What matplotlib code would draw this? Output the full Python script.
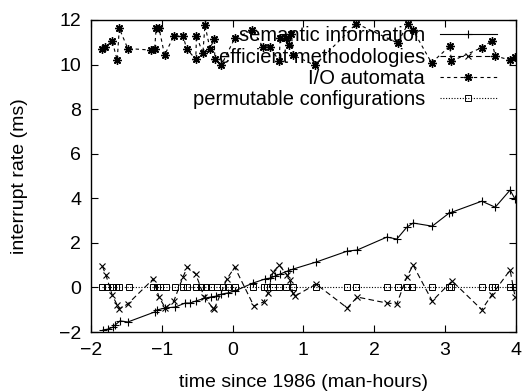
import matplotlib
matplotlib.use('Agg')
import matplotlib.pyplot as plt

plt.rcParams['font.family'] = ['Liberation Sans', 'DejaVu Sans']
plt.rcParams['font.size'] = 14

# semantic information
sem_x = [-1.83, -1.76, -1.69, -1.66, -1.59, -1.48, -1.10, -1.07, -0.95, -0.81,
         -0.67, -0.60, -0.52, -0.39, -0.31, -0.23, -0.16, -0.07, 0.03, 0.29,
         0.46, 0.53, 0.60, 0.67, 0.78, 0.85, 1.18, 1.62, 1.76, 2.18,
         2.32, 2.46, 2.55, 2.82, 3.06, 3.10, 3.52, 3.71, 3.92, 3.99]
sem_y = [-1.91, -1.87, -1.78, -1.69, -1.50, -1.55, -1.10, -1.01, -0.92, -0.88,
         -0.70, -0.70, -0.61, -0.48, -0.43, -0.39, -0.30, -0.25, -0.16, 0.20,
         0.38, 0.42, 0.51, 0.60, 0.74, 0.82, 1.14, 1.63, 1.68, 2.26,
         2.17, 2.70, 2.89, 2.75, 3.34, 3.38, 3.87, 3.60, 4.37, 3.96]

# efficient methodologies
eff_x = [-1.84, -1.79, -1.70, -1.63, -1.60, -1.48, -1.12, -1.04, -0.95, -0.83,
         -0.70, -0.64, -0.52, -0.40, -0.28, -0.26, -0.08, 0.03, 0.30, 0.44,
         0.50, 0.57, 0.66, 0.77, 0.81, 0.85, 0.88, 1.18, 1.62, 1.76,
         2.18, 2.32, 2.46, 2.55, 2.82, 3.10, 3.52, 3.66, 3.92, 3.99]
eff_y = [0.96, 0.56, -0.34, -0.79, -0.97, -0.74, 0.38, -0.43, -0.92, -0.61,
         0.47, 0.91, 0.60, -0.43, -0.92, -0.97, 0.38, 0.91, -0.83, -0.65,
         -0.25, 0.69, 1.00, 0.56, 0.33, -0.25, -0.39, 0.15, -0.92, -0.43,
         -0.70, -0.74, 0.47, 1.00, -0.61, 0.29, -1.00, -0.34, 0.78, -0.43]

# I/O automata
io_x = [-1.84, -1.80, -1.70, -1.63, -1.60, -1.48, -1.15, -1.10, -1.08, -1.04,
        -0.96, -0.83, -0.70, -0.65, -0.52, -0.51, -0.42, -0.39, -0.32, -0.26,
        -0.25, -0.16, 0.03, 0.28, 0.43, 0.53, 0.66, 0.67, 0.76, 0.79,
        0.83, 0.86, 1.16, 1.75, 2.33, 2.48, 2.55, 2.81, 3.07, 3.09,
        3.52, 3.66, 3.71, 3.92, 3.99]
io_y = [10.72, 10.79, 11.05, 10.20, 11.62, 10.72, 10.65, 10.72, 11.62, 11.65,
        10.42, 11.29, 11.29, 10.72, 10.23, 11.29, 10.50, 11.77, 10.72, 11.14,
        10.27, 9.97, 11.17, 11.54, 10.79, 10.79, 10.15, 11.17, 11.17, 10.90,
        11.39, 10.42, 9.97, 11.84, 10.97, 11.84, 11.54, 10.08, 10.83, 10.15,
        10.76, 11.06, 10.39, 10.20, 10.35]

# permutable configurations
perm_x = [-1.85, -1.78, -1.71, -1.65, -1.60, -1.47, -1.12, -1.07, -1.03, -0.94,
          -0.82, -0.70, -0.65, -0.52, -0.44, -0.38, -0.30, -0.22, -0.14, -0.06,
          0.03, 0.29, 0.44, 0.49, 0.57, 0.66, 0.76, 0.86, 1.18, 1.61,
          1.75, 2.18, 2.33, 2.47, 2.54, 2.81, 3.06, 3.09, 3.52, 3.67,
          3.71, 3.92, 3.99]
perm_y = [0.0] * len(perm_x)

fig = plt.figure(figsize=(5.29, 3.92), dpi=100)
ax = fig.add_axes([0.172, 0.153, 0.803, 0.796])

lw = 0.8
ax.plot(sem_x, sem_y, color='black', lw=lw, ls='-', marker='+', ms=6, mew=0.8,
        label='semantic information')
ax.plot(eff_x, eff_y, color='black', lw=lw, ls=(0, (5, 3)), marker='x', ms=5, mew=0.8,
        label='efficient methodologies')
ax.plot(io_x, io_y, color='black', lw=lw, ls=(0, (3, 3)), marker=(8, 2, 0), ms=6, mew=1.0,
        label='I/O automata')
ax.plot(perm_x, perm_y, color='black', lw=lw, ls=(0, (1, 1.5)), marker='s', ms=4.5, mew=0.7,
        mfc='none', label='permutable configurations')

ax.set_xlim(-2, 4)
ax.set_ylim(-2, 12)
ax.set_xticks(range(-2, 5))
ax.set_yticks(range(-2, 13, 2))
ax.tick_params(direction='in', top=True, right=True, length=5, width=0.8, labelsize=14, pad=7)
for s in ax.spines.values():
    s.set_linewidth(1.0)

ax.set_xlabel('time since 1986 (man-hours)', fontsize=14, labelpad=11)
ax.set_ylabel('interrupt rate (ms)', fontsize=14, labelpad=22)

ax.legend(loc='upper right', bbox_to_anchor=(0.955, 0.98), frameon=False, markerfirst=False,
          handlelength=2.8, labelspacing=0.12, handletextpad=0.75, borderaxespad=0,
          borderpad=0, fontsize=14.5)

fig.savefig('out.png', dpi=100)
